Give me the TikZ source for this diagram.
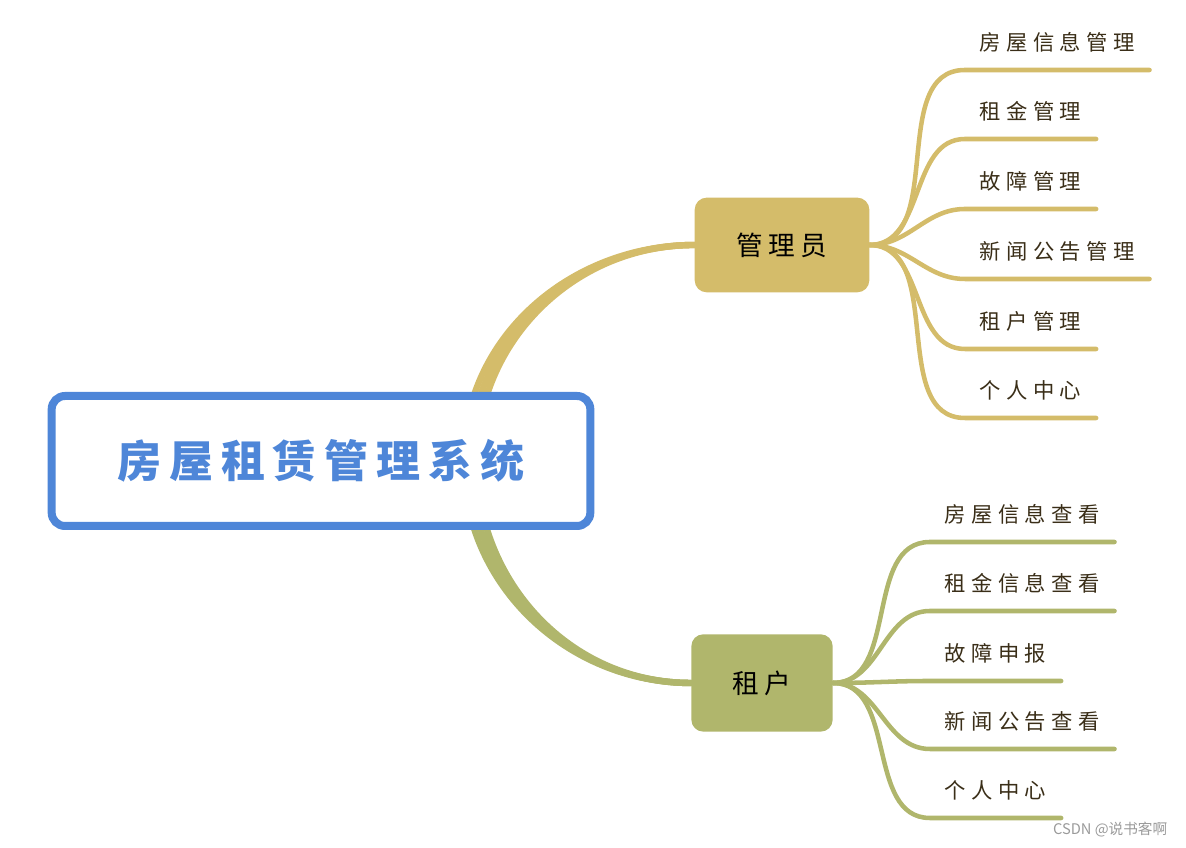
\documentclass[tikz,border=0pt]{standalone}
\usepackage{fontspec}
\usepackage{xcolor}
\usepackage{tikz}
\usetikzlibrary{backgrounds}
\newfontfamily\cjk{Noto Sans CJK SC}
\newfontfamily\cjkroot[LetterSpace=18]{Noto Sans CJK SC}
\newfontfamily\cjkbranch[LetterSpace=20]{Noto Sans CJK SC}
\newfontfamily\cjkleaf[LetterSpace=25]{Noto Sans CJK SC}
\definecolor{rootblue}{HTML}{4E86D8}
\definecolor{gold}{HTML}{D4BC6A}
\definecolor{olive}{HTML}{B0B66C}
\definecolor{leafink}{HTML}{3A2E18}
\definecolor{markgray}{HTML}{9A9A9A}
\tikzset{
  rootbox/.style={draw=rootblue,line width=6pt,rounded corners=10pt,fill=white,minimum width=404pt,minimum height=97.5pt,text=rootblue,font=\cjkroot\bfseries\fontsize{33}{40}\selectfont},
  branch/.style={rounded corners=9pt,text=black,font=\cjkbranch\fontsize{20}{24}\selectfont},
  admbox/.style={branch,fill=gold,minimum width=131pt,minimum height=71pt},
  tenbox/.style={branch,fill=olive,minimum width=106pt,minimum height=73pt},
  leaf/.style={anchor=south west,inner xsep=11pt,inner ysep=13pt,text=leafink,font=\cjkleaf\fontsize{16}{19}\selectfont},
  trunk/.style={line width=4.8pt,line cap=round},
  twig/.style={line width=3.4pt,line cap=round},
  watermark/.style={anchor=east,text=markgray,font=\cjk\fontsize{11}{13}\selectfont}
}
\begin{document}
\begin{tikzpicture}[x=0.75pt,y=0.75pt]
  \useasboundingbox (0,0) rectangle (1186,848);
  \node[rootbox] (root) at (321,387) {房屋租赁管理系统};
  \coordinate (hub) at (470,387);
  \node[admbox] (adm) at (782,603) {管理员};
  \node[tenbox] (ten) at (762,165) {租户};

  % admin leaves
  \node[leaf] (a1) at (965,778) {房屋信息管理};
  \node[leaf] (a2) at (965,709) {租金管理};
  \node[leaf] (a3) at (965,639) {故障管理};
  \node[leaf] (a4) at (965,569) {新闻公告管理};
  \node[leaf] (a5) at (965,499) {租户管理};
  \node[leaf] (a6) at (965,430) {个人中心};

  % tenant leaves
  \node[leaf] (t1) at (930,306) {房屋信息查看};
  \node[leaf] (t2) at (930,237) {租金信息查看};
  \node[leaf] (t3) at (930,167) {故障申报};
  \node[leaf] (t4) at (930,99) {新闻公告查看};
  \node[leaf] (t5) at (930,30) {个人中心};

  \node[watermark] (mark) at (1172,18) {CSDN @说书客啊};

  \begin{scope}[on background layer]
    \foreach \d in {-5,0,5} {
      \draw[trunk,gold] ([xshift=\d pt]hub) to[out=90,in=180] (adm.west);
      \draw[trunk,olive] ([xshift=\d pt]hub) to[out=-90,in=180] (ten.west);
    }
    \foreach \lf in {a1,a2,a3,a4,a5,a6}
      \draw[twig,gold] (adm.east) to[out=0,in=180] (\lf.south west) -- (\lf.south east);
    \foreach \lf in {t1,t2,t3,t4,t5}
      \draw[twig,olive] (ten.east) to[out=0,in=180] (\lf.south west) -- (\lf.south east);
  \end{scope}
\end{tikzpicture}
\end{document}
